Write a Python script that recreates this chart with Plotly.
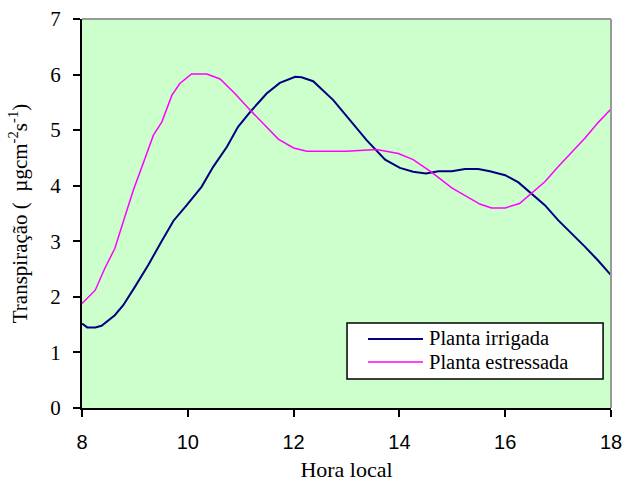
import plotly.graph_objects as go

hours_irrigada = [8.0, 8.1, 8.25, 8.37, 8.62, 8.78, 9.0, 9.25, 9.5, 9.73, 9.98, 10.26, 10.48, 10.74,
                  10.95, 11.18, 11.36, 11.49, 11.74, 12.03, 12.15, 12.37, 12.75, 13.07, 13.38, 13.73,
                  14.01, 14.26, 14.5, 14.74, 14.99, 15.24, 15.49, 15.71, 16.0, 16.25, 16.5, 16.75,
                  17.0, 17.26, 17.51, 17.76, 18.0]
irrigada = [1.52, 1.45, 1.45, 1.48, 1.67, 1.85, 2.18, 2.57, 2.99, 3.37, 3.65, 3.98, 4.34, 4.70,
            5.06, 5.33, 5.52, 5.66, 5.85, 5.96, 5.95, 5.88, 5.54, 5.18, 4.82, 4.47,
            4.32, 4.25, 4.22, 4.26, 4.26, 4.30, 4.30, 4.26, 4.19, 4.06, 3.86, 3.65,
            3.38, 3.14, 2.90, 2.65, 2.39]

hours_estressada = [8.0, 8.25, 8.43, 8.62, 8.78, 8.97, 9.19, 9.35, 9.51, 9.70, 9.85, 10.07, 10.36,
                    10.61, 10.89, 11.18, 11.71, 12.0, 12.25, 13.0, 13.57, 13.98, 14.26, 14.6, 14.99,
                    15.27, 15.52, 15.74, 16.0, 16.27, 16.5, 16.75, 17.0, 17.26, 17.51, 17.76, 18.0]
estressada = [1.88, 2.12, 2.51, 2.87, 3.35, 3.92, 4.49, 4.91, 5.15, 5.63, 5.84, 6.01, 6.01,
              5.92, 5.66, 5.36, 4.84, 4.68, 4.62, 4.62, 4.65, 4.58, 4.47, 4.25, 3.96,
              3.81, 3.67, 3.60, 3.60, 3.68, 3.86, 4.07, 4.34, 4.61, 4.86, 5.14, 5.38]

series_names = ["Planta irrigada", "Planta estressada"]
series_colors = ["#000080", "#FF00FF"]
series_widths = [2, 1.5]

x_ticks = [8, 10, 12, 14, 16, 18]
y_ticks = [0, 1, 2, 3, 4, 5, 6, 7]

serif = "Liberation Serif, Times New Roman, serif"
sans = "Liberation Sans, Arial, sans-serif"

fig = go.Figure()
for xs, ys, name, color, w in zip([hours_irrigada, hours_estressada], [irrigada, estressada],
                                  series_names, series_colors, series_widths):
    fig.add_trace(go.Scatter(x=xs, y=ys, mode="lines", name=name,
                             line=dict(color=color, width=w), showlegend=False))

# Legend box drawn in paper coordinates (Excel-style compact legend)
legend_box = dict(x0=0.501, x1=0.985, y0=0.0746, y1=0.2185)
legend_rows_y = [0.1774, 0.1183]
legend_line_x = (0.5406, 0.6446)
legend_text_x = 0.652

shapes = [
    dict(type="line", xref="paper", yref="paper", x0=0, x1=1, y0=1, y1=1,
         line=dict(color="#999999", width=2)),
    dict(type="line", xref="paper", yref="paper", x0=1, x1=1, y0=0, y1=1,
         line=dict(color="#999999", width=2)),
    dict(type="rect", xref="paper", yref="paper", fillcolor="white",
         line=dict(color="black", width=1.5), **legend_box),
]
annotations = []
for ry, name, color, w in zip(legend_rows_y, series_names, series_colors, series_widths):
    shapes.append(dict(type="line", xref="paper", yref="paper",
                       x0=legend_line_x[0], x1=legend_line_x[1], y0=ry, y1=ry,
                       line=dict(color=color, width=w)))
    annotations.append(dict(text=name, xref="paper", yref="paper", x=legend_text_x, y=ry,
                            xanchor="left", yanchor="middle", showarrow=False,
                            font=dict(family=serif, size=20.5, color="black")))

fig.update_layout(
    width=625, height=484,
    margin=dict(l=82, r=14, t=19, b=76, autoexpand=False),
    paper_bgcolor="white",
    plot_bgcolor="#CCFFCC",
    showlegend=False,
    xaxis=dict(range=[8, 18], tickvals=x_ticks, ticktext=[str(v) for v in x_ticks],
               showgrid=False, zeroline=False, showline=True, linecolor="black", linewidth=2,
               ticks="outside", ticklen=7, tickcolor="black", tickwidth=1.5,
               tickfont=dict(family=sans, size=20, color="black"),
               ticklabelstandoff=8, automargin=False,
               title=dict(text="Hora local", font=dict(family=serif, size=22, color="black"),
                          standoff=10)),
    yaxis=dict(range=[0, 7], tickvals=y_ticks, ticktext=[str(v) for v in y_ticks],
               showgrid=False, zeroline=False, showline=True, linecolor="black", linewidth=2,
               ticks="outside", ticklen=7, tickcolor="black", tickwidth=1.5,
               tickfont=dict(family=serif, size=21, color="black"),
               ticklabelstandoff=8, automargin=False,
               title=dict(text="Transpiração (  µgcm<sup>-2</sup>s<sup>-1</sup>)",
                          font=dict(family=serif, size=21, color="black"), standoff=17)),
    shapes=shapes,
    annotations=annotations,
)

fig.write_html("out.html", config={"displayModeBar": False},
               post_script="document.body.style.margin='0';")
